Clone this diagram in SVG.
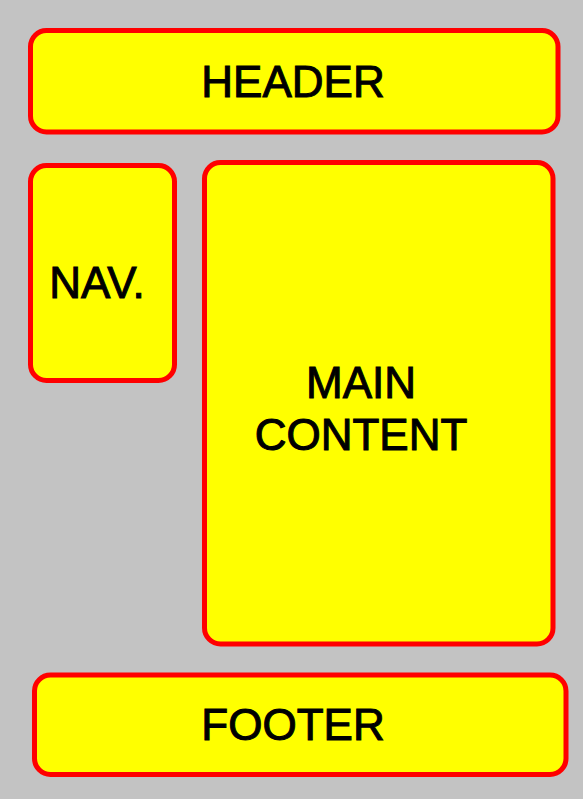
<svg xmlns="http://www.w3.org/2000/svg" width="583" height="799" viewBox="0 0 583 799">
<style>
.box{fill:#ffff00;stroke:#ff0000;stroke-width:5}
.lbl{font-family:"Liberation Sans",Arial,sans-serif;font-size:44px;fill:#000;stroke:#000;stroke-width:1;text-anchor:middle}
</style>
<rect width="583" height="799" fill="#c3c3c3"/>
<g id="header">
<rect class="box" x="30.5" y="30.5" width="527.5" height="101.5" rx="16"/>
<text class="lbl" x="293" y="97">HEADER</text>
</g>
<g id="nav">
<rect class="box" x="30.5" y="165.5" width="144" height="215" rx="16"/>
<text class="lbl" x="97" y="298">NAV.</text>
</g>
<g id="main">
<rect class="box" x="204.5" y="162.5" width="348.5" height="481.5" rx="16"/>
<text class="lbl" x="361" y="398">MAIN</text>
<text class="lbl" x="361" y="450">CONTENT</text>
</g>
<g id="footer">
<rect class="box" x="34.5" y="675" width="531.5" height="99.5" rx="16"/>
<text class="lbl" x="293" y="740">FOOTER</text>
</g>
<g id="connectors"></g>
</svg>
